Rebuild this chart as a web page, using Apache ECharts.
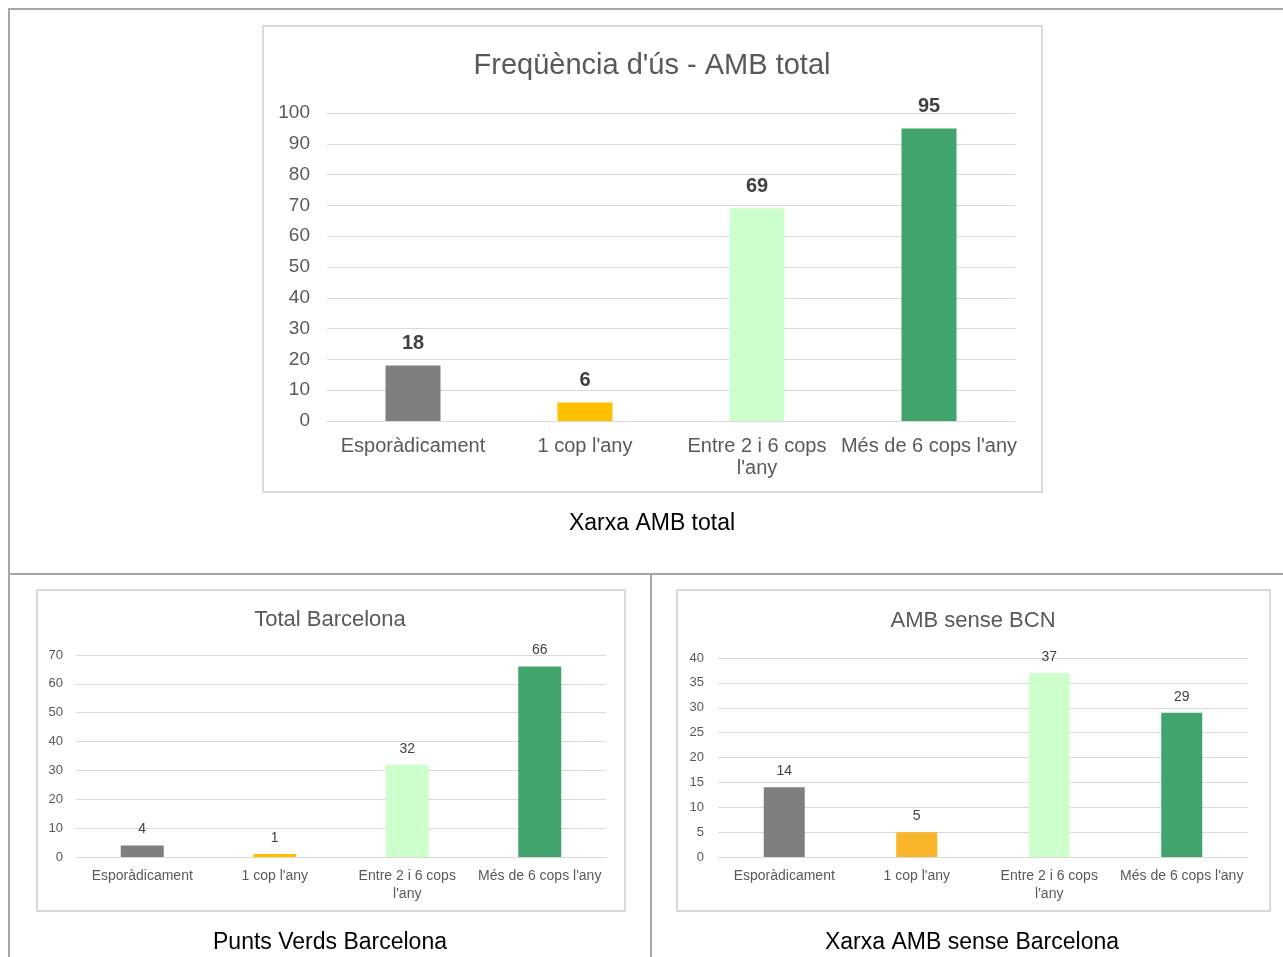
<!DOCTYPE html>
<html>
<head>
<meta charset="utf-8">
<script src="https://cdn.jsdelivr.net/npm/echarts@6/dist/echarts.min.js"></script>
<style>
html,body{margin:0;padding:0;background:#fff;}
#c{width:1283px;height:957px;}
</style>
</head>
<body>
<div id="c"></div>
<script>
const categories = ["Esporàdicament", "1 cop l'any", "Entre 2 i 6 cops\nl'any", "Més de 6 cops l'any"];
const totalAMB = [18, 6, 69, 95];
const totalBarcelona = [4, 1, 32, 66];
const ambSenseBCN = [14, 5, 37, 29];
const topTicks = {max: 100, interval: 10};
const blTicks = {max: 70, interval: 10};
const brTicks = {max: 40, interval: 5};
const barColors = ['#7f7f7f', '#ffc000', '#ccffcc', '#41a46d'];
const barColorsBR = ['#7f7f7f', '#f9b62a', '#ccffcc', '#41a46d'];

const FONT = 'Liberation Sans, Arial, sans-serif';
const chart = echarts.init(document.getElementById('c'), null, {renderer: 'canvas'});

function colored(vals, cols) {
  return vals.map((v, i) => ({value: v, itemStyle: {color: cols[i]}}));
}
function xAx(idx, fs, margin, lh) {
  return {
    type: 'category', gridIndex: idx, data: categories,
    axisLine: {show: true, lineStyle: {color: '#d9d9d9', width: 1}},
    axisTick: {show: false},
    axisLabel: {color: '#595959', fontSize: fs, fontFamily: FONT, margin: margin, interval: 0, lineHeight: lh}
  };
}
function yAx(idx, t, fs, margin) {
  return {
    type: 'value', gridIndex: idx, min: 0, max: t.max, interval: t.interval,
    axisLine: {show: false}, axisTick: {show: false},
    splitLine: {lineStyle: {color: '#d9d9d9', width: 1}},
    axisLabel: {color: '#595959', fontSize: fs, fontFamily: FONT, margin: margin}
  };
}

const option = {
  backgroundColor: '#fff',
  animation: false,
  title: [
    {text: "Freqüència d'ús - AMB total", left: 647, top: 46, textAlign: 'center',
     textStyle: {fontSize: 29, fontWeight: 'normal', color: '#595959', fontFamily: FONT}},
    {text: 'Xarxa AMB total', left: 647, top: 507, textAlign: 'center',
     textStyle: {fontSize: 23, fontWeight: 'normal', color: '#000', fontFamily: FONT}},
    {text: 'Total Barcelona', left: 325, top: 604, textAlign: 'center',
     textStyle: {fontSize: 22, fontWeight: 'normal', color: '#595959', fontFamily: FONT}},
    {text: 'Punts Verds Barcelona', left: 325, top: 926, textAlign: 'center',
     textStyle: {fontSize: 23, fontWeight: 'normal', color: '#000', fontFamily: FONT}},
    {text: 'AMB sense BCN', left: 968, top: 605, textAlign: 'center',
     textStyle: {fontSize: 22, fontWeight: 'normal', color: '#595959', fontFamily: FONT}},
    {text: 'Xarxa AMB sense Barcelona', left: 967, top: 926, textAlign: 'center',
     textStyle: {fontSize: 23, fontWeight: 'normal', color: '#000', fontFamily: FONT}}
  ],
  graphic: [
    {type: 'line', shape: {x1: 8, y1: 9, x2: 1283, y2: 9}, style: {stroke: '#a6a6a6', lineWidth: 2}, z: 0},
    {type: 'line', shape: {x1: 9, y1: 8, x2: 9, y2: 957}, style: {stroke: '#a6a6a6', lineWidth: 2}, z: 0},
    {type: 'line', shape: {x1: 8, y1: 574, x2: 1283, y2: 574}, style: {stroke: '#a6a6a6', lineWidth: 2}, z: 0},
    {type: 'line', shape: {x1: 651, y1: 574, x2: 651, y2: 957}, style: {stroke: '#a6a6a6', lineWidth: 2}, z: 0},
    {type: 'rect', shape: {x: 263, y: 26, width: 779, height: 466}, style: {fill: 'none', stroke: '#d9d9d9', lineWidth: 2}, z: 0},
    {type: 'rect', shape: {x: 37, y: 590, width: 588, height: 321}, style: {fill: 'none', stroke: '#d9d9d9', lineWidth: 2}, z: 0},
    {type: 'rect', shape: {x: 677, y: 590, width: 593, height: 321}, style: {fill: 'none', stroke: '#d9d9d9', lineWidth: 2}, z: 0}
  ],
  grid: [
    {left: 327, right: 268, top: 113, bottom: 536},
    {left: 76, right: 677, top: 655, bottom: 100},
    {left: 718, right: 35, top: 658, bottom: 100}
  ],
  xAxis: [xAx(0, 20, 14, 22), xAx(1, 14, 10, 18), xAx(2, 14, 10, 18)],
  yAxis: [yAx(0, topTicks, 19, 17), yAx(1, blTicks, 13, 13), yAx(2, brTicks, 13, 14)],
  series: [
    {type: 'bar', xAxisIndex: 0, yAxisIndex: 0, barWidth: 55, data: colored(totalAMB, barColors),
     label: {show: true, position: 'top', distance: 12, fontSize: 20, fontWeight: 'bold', color: '#404040', fontFamily: FONT}},
    {type: 'bar', xAxisIndex: 1, yAxisIndex: 1, barWidth: 43, data: colored(totalBarcelona, barColors),
     label: {show: true, position: 'top', distance: 9, fontSize: 14, color: '#404040', fontFamily: FONT}},
    {type: 'bar', xAxisIndex: 2, yAxisIndex: 2, barWidth: 41, data: colored(ambSenseBCN, barColorsBR),
     label: {show: true, position: 'top', distance: 9, fontSize: 14, color: '#404040', fontFamily: FONT}}
  ]
};
chart.setOption(option);
</script>
</body>
</html>
